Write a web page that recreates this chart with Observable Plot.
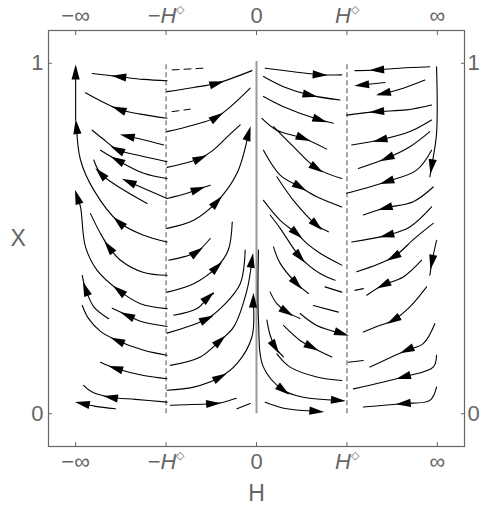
<!DOCTYPE html>
<html><head><meta charset="utf-8">
<script src="https://cdn.jsdelivr.net/npm/d3@7"></script>
<script src="https://cdn.jsdelivr.net/npm/@observablehq/plot@0.6"></script>
<style>body{margin:0;background:#fff}svg{display:block}</style>
</head><body><div id="chart"></div>
<script>
const xTicks = [-2, -1, 0, 1, 2];
const xTickLabels = ["−∞", "−H◇", "0", "H◇", "∞"];
const yTicks = [0, 1];
const yTickLabels = ["0", "1"];
const xLabel = "H";
const yLabel = "X";
const guideDashed = [-1, 1];
const guideSolid = [0];

// streamlines between −∞ and −H◇ (flow to the left and up)
const leftStreams = [
 {pts:[[-0.989,0.950],[-1.247,0.954],[-1.523,0.962],[-1.817,0.971]], arrows:[2]},
 {pts:[[-0.989,0.843],[-1.284,0.855],[-1.523,0.869],[-1.891,0.916]], arrows:[2]},
 {pts:[[-1.026,0.767],[-1.284,0.784],[-1.430,0.792]], arrows:[2]},
 {pts:[[-0.989,0.719],[-1.320,0.738],[-1.541,0.754],[-1.706,0.786],[-1.817,0.809]], arrows:[2]},
 {pts:[[-0.989,0.671],[-1.247,0.686],[-1.541,0.724],[-1.725,0.752]], arrows:[2]},
 {pts:[[-1.210,0.600],[-1.504,0.644],[-1.725,0.686],[-1.799,0.724]], arrows:[2]},
 {pts:[[-0.989,0.614],[-1.173,0.635],[-1.413,0.662]], arrows:[2]},
 {pts:[[-0.989,0.490],[-1.247,0.509],[-1.523,0.547],[-1.799,0.638],[-1.946,0.724],[-1.990,0.819]], arrows:[2,5]},
 {pts:[[-2.0,0.838],[-2.0,0.909],[-2.0,0.975],[-2.0,0.99]], arrows:[2]},
 {pts:[[-0.989,0.300],[-1.284,0.314],[-1.523,0.352],[-1.762,0.409],[-1.891,0.476],[-1.946,0.590],[-1.982,0.619]], arrows:[2,6]},
 {pts:[[-0.989,0.395],[-1.247,0.403],[-1.504,0.438],[-1.634,0.476],[-1.725,0.514],[-1.836,0.571]], arrows:[3]},
 {pts:[[-0.989,0.249],[-1.284,0.264],[-1.430,0.281],[-1.596,0.301]], arrows:[2]},
 {pts:[[-1.634,0.271],[-1.799,0.305],[-1.891,0.357],[-1.927,0.395]], arrows:[2]},
 {pts:[[-0.989,0.167],[-1.247,0.181],[-1.541,0.209],[-1.725,0.235],[-1.858,0.272],[-1.927,0.309]], arrows:[2]},
 {pts:[[-0.989,0.100],[-1.247,0.109],[-1.560,0.130],[-1.725,0.147]], arrows:[2]},
 {pts:[[-0.989,0.033],[-1.339,0.041],[-1.615,0.047],[-1.817,0.062],[-1.913,0.081]], arrows:[2]},
 {pts:[[-1.560,0.014],[-1.780,0.021],[-1.927,0.029]], arrows:[2]}
];

// streamlines between −H◇ and 0 (flow to the right and up)
const midLeftStreams = [
 {pts:[[-0.989,0.919],[-0.695,0.931],[-0.437,0.943],[-0.051,0.979]], arrows:[2]},
 {pts:[[-0.989,0.805],[-0.695,0.824],[-0.437,0.847],[-0.070,0.929]], arrows:[2]},
 {pts:[[-0.989,0.703],[-0.806,0.714],[-0.621,0.729],[-0.478,0.752],[-0.327,0.789],[-0.180,0.824]], arrows:[2]},
 {pts:[[-0.989,0.614],[-0.768,0.629],[-0.643,0.641],[-0.511,0.652]], arrows:[2]},
 {pts:[[-0.989,0.529],[-0.695,0.552],[-0.437,0.605],[-0.216,0.686],[-0.088,0.800]], arrows:[2,4]},
 {pts:[[-0.971,0.438],[-0.787,0.449],[-0.658,0.462],[-0.511,0.500]], arrows:[2]},
 {pts:[[-0.989,0.347],[-0.695,0.371],[-0.437,0.419],[-0.312,0.467],[-0.268,0.547]], arrows:[2]},
 {pts:[[-0.916,0.281],[-0.658,0.300],[-0.530,0.333],[-0.475,0.343]], arrows:[2]},
 {pts:[[-0.989,0.230],[-0.547,0.271],[-0.364,0.309],[-0.180,0.371],[-0.125,0.467]], arrows:[1]},
 {pts:[[-0.953,0.138],[-0.621,0.162],[-0.401,0.209],[-0.254,0.247],[-0.106,0.352],[-0.051,0.438]], arrows:[2,5]},
 {pts:[[-0.989,0.067],[-0.695,0.076],[-0.401,0.105],[-0.216,0.143],[-0.051,0.219],[-0.036,0.324]], arrows:[2,5]},
 {pts:[[-0.953,0.024],[-0.475,0.029],[-0.364,0.033],[-0.224,0.044]], arrows:[1]},
 {pts:[[-0.216,0.014],[-0.070,0.029]], arrows:[]}
];

// streamlines between 0 and H◇ (flow to the right and down)
const midRightStreams = [
 {pts:[[0.096,0.986],[0.408,0.976],[0.703,0.967],[0.943,0.967]], arrows:[2]},
 {pts:[[0.077,0.962],[0.298,0.933],[0.593,0.909],[0.924,0.895]], arrows:[2]},
 {pts:[[0.077,0.905],[0.298,0.876],[0.703,0.838],[0.850,0.829]], arrows:[2]},
 {pts:[[0.060,0.843],[0.225,0.809],[0.519,0.786],[0.777,0.755]], arrows:[2]},
 {pts:[[0.188,0.819],[0.408,0.762],[0.667,0.700],[0.943,0.671]], arrows:[2]},
 {pts:[[0.077,0.752],[0.262,0.681],[0.482,0.647],[0.667,0.619],[0.943,0.590]], arrows:[2]},
 {pts:[[0.225,0.676],[0.408,0.609],[0.667,0.538],[0.795,0.519]], arrows:[2]},
 {pts:[[0.077,0.609],[0.262,0.552],[0.446,0.514],[0.556,0.486],[0.703,0.458],[0.943,0.424]], arrows:[2]},
 {pts:[[0.151,0.567],[0.262,0.529],[0.482,0.447],[0.703,0.400],[0.869,0.381]], arrows:[2]},
 {pts:[[0.188,0.476],[0.262,0.429],[0.446,0.371],[0.574,0.343]], arrows:[2]},
 {pts:[[0.758,0.362],[0.943,0.347]], arrows:[]},
 {pts:[[0.151,0.347],[0.225,0.314],[0.336,0.290],[0.482,0.272]], arrows:[2]},
 {pts:[[0.629,0.309],[0.905,0.290]], arrows:[]},
 {pts:[[0.482,0.286],[0.667,0.252],[0.943,0.229]], arrows:[2]},
 {pts:[[0.115,0.267],[0.151,0.224],[0.206,0.190],[0.298,0.162]], arrows:[2]},
 {pts:[[0.298,0.252],[0.482,0.209],[0.611,0.190],[0.832,0.162]], arrows:[2]},
 {pts:[[0.225,0.171],[0.372,0.133],[0.667,0.105],[0.943,0.095]], arrows:[]},
 {pts:[[0.022,0.467],[0.022,0.267],[0.077,0.133],[0.298,0.067],[0.519,0.047],[0.905,0.038]], arrows:[3,5]},
 {pts:[[0.096,0.033],[0.336,0.014],[0.667,0.007]], arrows:[2]}
];

// streamlines between H◇ and ∞ (flow to the left and down)
const rightStreams = [
 {pts:[[1.917,0.990],[1.586,0.986],[1.329,0.981],[1.089,0.979]], arrows:[2]},
 {pts:[[1.421,0.945],[1.163,0.938]], arrows:[1]},
 {pts:[[1.862,0.952],[1.623,0.929],[1.402,0.914],[1.347,0.912]], arrows:[2]},
 {pts:[[1.936,0.881],[1.660,0.867],[1.329,0.862],[0.998,0.852]], arrows:[2]},
 {pts:[[1.936,0.838],[1.696,0.805],[1.365,0.781],[1.053,0.767]], arrows:[2]},
 {pts:[[1.917,0.805],[1.696,0.762],[1.439,0.729],[1.126,0.700]], arrows:[2]},
 {pts:[[1.991,0.990],[1.991,0.800],[1.936,0.705],[1.917,0.676]], arrows:[2]},
 {pts:[[1.936,0.752],[1.770,0.695],[1.439,0.662],[0.998,0.629]], arrows:[2]},
 {pts:[[1.954,0.647],[1.733,0.605],[1.421,0.587],[1.181,0.567]], arrows:[2]},
 {pts:[[1.936,0.590],[1.696,0.533],[1.439,0.509],[1.053,0.490]], arrows:[2]},
 {pts:[[1.954,0.543],[1.752,0.501],[1.512,0.447],[1.108,0.405]], arrows:[2]},
 {pts:[[1.991,0.495],[1.939,0.432],[1.917,0.395]], arrows:[1]},
 {pts:[[1.826,0.438],[1.623,0.390],[1.402,0.367],[1.219,0.338]], arrows:[2]},
 {pts:[[1.181,0.357],[1.089,0.352]], arrows:[]},
 {pts:[[1.881,0.362],[1.696,0.305],[1.512,0.267],[1.310,0.247],[1.181,0.233]], arrows:[2]},
 {pts:[[1.972,0.257],[1.843,0.200],[1.660,0.181],[1.255,0.133]], arrows:[2]},
 {pts:[[1.181,0.152],[1.015,0.147]], arrows:[]},
 {pts:[[1.991,0.167],[1.954,0.133],[1.623,0.105],[1.071,0.071]], arrows:[2]},
 {pts:[[1.991,0.076],[1.917,0.038],[1.623,0.029],[1.181,0.019]], arrows:[2]}
];

// faint broken streamline pieces
const dashedStreams = [
 {pts:[[-0.934,0.981],[-0.585,0.986]]},
 {pts:[[-0.934,0.862],[-0.732,0.869]]}
];

const streams = [...leftStreams, ...midLeftStreams, ...midRightStreams, ...rightStreams];
const lineData = streams.flatMap((s, i) => s.pts.map(([x, y]) => ({id: i, x, y})));
const dashData = dashedStreams.flatMap((s, i) => s.pts.map(([x, y]) => ({id: i, x, y})));

const xLabelMap = new Map(xTicks.map((t, i) => [t, xTickLabels[i]]));
const yLabelMap = new Map(yTicks.map((t, i) => [t, yTickLabels[i]]));

const base = {
  width: 480, height: 510,
  marginLeft: 48, marginRight: 16, marginTop: 30, marginBottom: 64,
  x: {domain: [-2.3, 2.3]},
  y: {domain: [-0.0935, 1.0935]},
  style: {fontFamily: "'Liberation Sans', Arial, sans-serif", fontSize: "22px", color: "#666", background: "#fff", overflow: "visible"}
};

const lineMark = Plot.line(lineData, {x: "x", y: "y", z: "id", curve: "catmull-rom", stroke: "black", strokeWidth: 1.1});
const probe = Plot.plot({...base, marks: [lineMark]});
const sx = probe.scale("x"), sy = probe.scale("y");

const arrowData = streams.flatMap(s => s.arrows.map(a => {
  const p = s.pts[a];
  const q0 = s.pts[Math.max(0, a - 1)];
  const q1 = s.pts[Math.min(s.pts.length - 1, a + 1)];
  const ang = Math.atan2(sy.apply(q1[1]) - sy.apply(q0[1]), sx.apply(q1[0]) - sx.apply(q0[0])) * 180 / Math.PI;
  return {x: p[0], y: p[1], angle: ang};
}));

const arrowHead = {
  draw(ctx, size) {
    const s = Math.sqrt(size / Math.PI);
    ctx.moveTo(1.55 * s, 0);
    ctx.lineTo(-1.55 * s, -0.85 * s);
    ctx.lineTo(-1.55 * s, 0.85 * s);
    ctx.closePath();
  }
};

const tickStyle = {stroke: "#666", strokeWidth: 1, tickFormat: () => ""};
const labStyle = {tickSize: 0, fontSize: 22, color: "#666", label: null};

const svg = Plot.plot({
  ...base,
  marks: [
    Plot.ruleX(guideSolid, {y1: 0, y2: 1.005, stroke: "#9a9a9a", strokeWidth: 2}),
    Plot.ruleX(guideDashed, {y1: 0, y2: 1, stroke: "#888", strokeWidth: 1.5, strokeDasharray: "5,3"}),
    lineMark,
    Plot.line(dashData, {x: "x", y: "y", z: "id", stroke: "black", strokeWidth: 1, strokeDasharray: "7,5"}),
    Plot.dot(arrowData, {x: "x", y: "y", rotate: "angle", symbol: arrowHead, r: 4.8, fill: "black", stroke: "none"}),
    Plot.frame({stroke: "#666", strokeWidth: 1.2}),
    Plot.axisX({...tickStyle, ticks: xTicks, anchor: "bottom", tickSize: 4, dy: -4, label: null}),
    Plot.axisX({...tickStyle, ticks: xTicks, anchor: "top", tickSize: 4, dy: 4, label: null}),
    Plot.axisY({...tickStyle, ticks: yTicks, anchor: "left", tickSize: 4, dx: 4, label: null}),
    Plot.axisY({...tickStyle, ticks: yTicks, anchor: "right", tickSize: 4, dx: -4, label: null}),
    Plot.axisX({...labStyle, ticks: xTicks, anchor: "bottom", tickPadding: 7, tickFormat: d => xLabelMap.get(d)}),
    Plot.axisX({...labStyle, ticks: xTicks, anchor: "top", tickPadding: 8, tickFormat: d => xLabelMap.get(d)}),
    Plot.axisY({...labStyle, ticks: yTicks, anchor: "left", tickPadding: 5, tickFormat: d => yLabelMap.get(d)}),
    Plot.axisY({...labStyle, ticks: yTicks, anchor: "right", tickPadding: 3, tickFormat: d => yLabelMap.get(d)}),
    Plot.text([xLabel], {text: d => d, frameAnchor: "bottom", dy: 54, fontSize: 23, fill: "#666"}),
    Plot.text([yLabel], {text: d => d, frameAnchor: "left", dx: -38, fontSize: 23, fill: "#666"})
  ]
});

// italic H with a small raised diamond in the tick labels
const NS = "http://www.w3.org/2000/svg";
svg.querySelectorAll('g[aria-label="x-axis tick label"] text').forEach(t => {
  const s = t.textContent;
  const i = s.indexOf("H");
  if (i < 0) return;
  t.textContent = "";
  if (i > 0) { const a = document.createElementNS(NS, "tspan"); a.textContent = s.slice(0, i); t.append(a); }
  const h = document.createElementNS(NS, "tspan"); h.setAttribute("font-style", "italic"); h.textContent = "H"; t.append(h);
  const d = document.createElementNS(NS, "tspan"); d.setAttribute("font-size", "11"); d.setAttribute("dy", "-10"); d.textContent = s.slice(i + 1); t.append(d);
});

document.getElementById("chart").append(svg);
</script>
</body></html>
